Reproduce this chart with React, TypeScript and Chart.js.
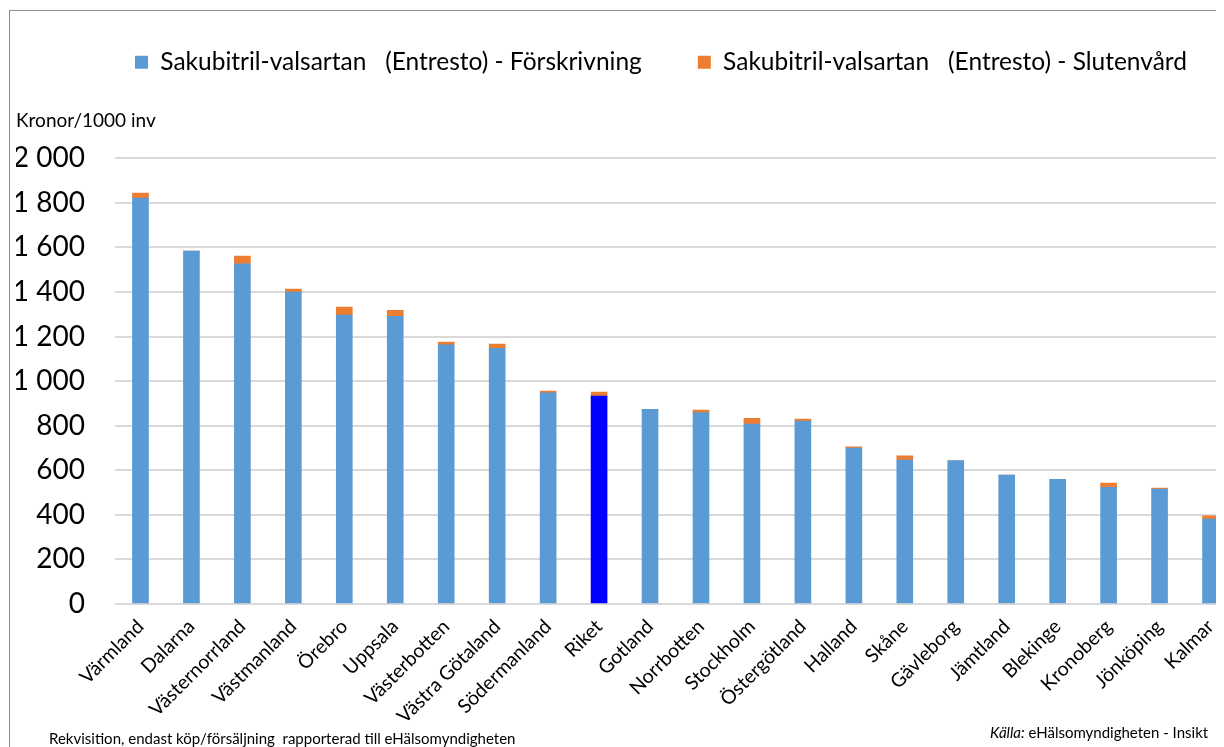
import React, { useEffect, useRef } from "react";
import { Chart, registerables } from "chart.js";

Chart.register(...registerables);

const categories = [
  "Värmland", "Dalarna", "Västernorrland", "Västmanland", "Örebro", "Uppsala",
  "Västerbotten", "Västra Götaland", "Södermanland", "Riket", "Gotland", "Norrbotten",
  "Stockholm", "Östergötland", "Halland", "Skåne", "Gävleborg", "Jämtland",
  "Blekinge", "Kronoberg", "Jönköping", "Kalmar",
];
const forskrivning = [1821, 1584, 1526, 1400, 1296, 1291, 1163, 1147, 948, 933, 873, 859, 807, 821, 700, 646, 644, 578, 559, 523, 516, 381];
const slutenvard = [23, 0, 35, 13, 36, 27, 12, 19, 7, 18, 0, 11, 26, 9, 5, 19, 0, 0, 0, 20, 4, 15];
const seriesNames = [
  "Sakubitril-valsartan   (Entresto) - Förskrivning",
  "Sakubitril-valsartan   (Entresto) - Slutenvård",
];
const highlighted = "Riket";
const yTitle = "Kronor/1000 inv";
const footLeft = "Rekvisition, endast köp/försäljning  rapporterad till eHälsomyndigheten";
const footSourceLabel = "Källa:";
const footSource = " eHälsomyndigheten - Insikt";

const FONT = "Lato, 'Open Sans', sans-serif";

function fmt(v: number) {
  return String(v).replace(/\B(?=(\d{3})+(?!\d))/g, " ");
}

export default function App() {
  const ref = useRef<HTMLCanvasElement | null>(null);
  useEffect(() => {
    if (!ref.current) return;
    const chart = new Chart(ref.current, {
      type: "bar",
      data: {
        labels: categories,
        datasets: [
          {
            label: seriesNames[0],
            data: forskrivning,
            backgroundColor: categories.map((c) => (c === highlighted ? "#0000FF" : "#5B9BD5")),
            barThickness: 16,
            borderWidth: 0,
          },
          {
            label: seriesNames[1],
            data: slutenvard,
            backgroundColor: "#ED7D31",
            barThickness: 16,
            borderWidth: 0,
          },
        ],
      },
      options: {
        responsive: false,
        animation: false,
        layout: { padding: { left: 8, right: 0, top: 16, bottom: 21 } },
        plugins: {
          legend: {
            position: "top",
            weight: 3000,
            labels: {
              boxWidth: 13,
              boxHeight: 13,
              padding: 56,
              color: "#000",
              font: { family: FONT, size: 24.5 },
            },
          } as any,
          title: {
            display: true,
            text: yTitle,
            align: "start",
            weight: 500,
            color: "#000",
            font: { family: FONT, size: 19, weight: "normal" },
            padding: { top: 25, bottom: 26 },
          } as any,
          tooltip: { enabled: false },
        },
        scales: {
          x: {
            stacked: true,
            afterFit: (s: any) => {
              s.height = 130;
            },
            grid: { display: false },
            border: { display: false },
            ticks: {
              color: "#000",
              minRotation: 45,
              maxRotation: 45,
              autoSkip: false,
              font: { family: FONT, size: 19.5 },
            },
          },
          y: {
            stacked: true,
            min: 0,
            max: 2000,
            afterFit: (s: any) => {
              s.width = 99;
            },
            grid: { color: "#d9d9d9", lineWidth: 2, drawTicks: false },
            border: { display: false },
            ticks: {
              stepSize: 200,
              padding: 30,
              color: "#000",
              font: { family: FONT, size: 28 },
              callback: (v: any) => fmt(Number(v)),
            },
          },
          yRight: {
            position: "right",
            min: 0,
            max: 2000,
            afterFit: (s: any) => {
              s.width = 70;
            },
            grid: { display: false },
            border: { display: false },
            ticks: { display: false },
          },
        },
      },
    });
    return () => chart.destroy();
  }, []);

  return (
    <div style={{ position: "relative", width: 1216, height: 739, overflow: "hidden", fontFamily: FONT }}>
      <div
        style={{
          position: "absolute",
          left: 1,
          top: 2,
          width: 3000,
          height: 3000,
          borderLeft: "1px solid #8c8c8c",
          borderTop: "1px solid #8c8c8c",
        }}
      />
      <canvas
        ref={ref}
        width={1298}
        height={777}
        style={{ position: "absolute", left: 0, top: -30, width: 1298, height: 777 }}
      />
      <div style={{ position: "absolute", left: 41, top: 721, fontSize: 15, color: "#000", whiteSpace: "pre" }}>
        {footLeft}
      </div>
      <div style={{ position: "absolute", left: 982, top: 715, fontSize: 15, color: "#000", whiteSpace: "pre" }}>
        <i>{footSourceLabel}</i>
        {footSource}
      </div>
    </div>
  );
}
